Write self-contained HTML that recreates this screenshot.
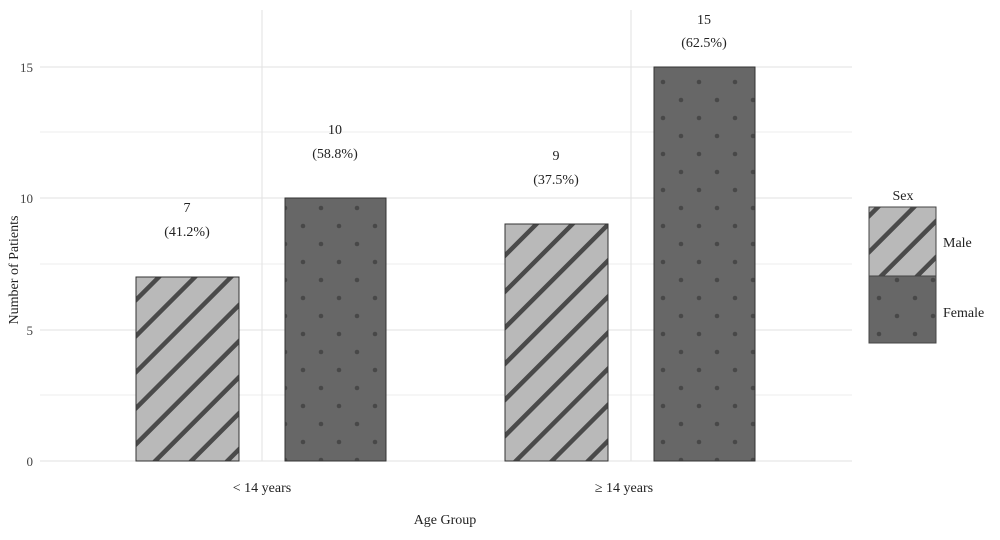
<!DOCTYPE html>
<html><head><style>body{margin:0;background:#fff}</style></head><body>
<svg width="1000" height="535" xmlns="http://www.w3.org/2000/svg" font-family="Liberation Serif, serif" fill="#222">
<defs>
<pattern id="st" width="25.5" height="25.5" patternUnits="userSpaceOnUse" patternTransform="rotate(45)">
<rect width="25.5" height="25.5" fill="#b9b9b9"/><rect x="0" y="0" width="4.5" height="25.5" fill="#4a4a4a"/>
</pattern>
<pattern id="dt" width="36" height="36" patternUnits="userSpaceOnUse" x="285" y="190">
<rect width="36" height="36" fill="#676767"/><circle cx="36" cy="18" r="2.3" fill="#484848"/><circle cx="0" cy="18" r="2.3" fill="#484848"/><circle cx="18" cy="0" r="2.3" fill="#484848"/><circle cx="18" cy="36" r="2.3" fill="#484848"/>
</pattern>
</defs>
<g stroke="#ececec" stroke-width="1">
<line x1="40" x2="852" y1="132" y2="132"/><line x1="40" x2="852" y1="264" y2="264"/><line x1="40" x2="852" y1="395" y2="395"/>
</g>
<g stroke="#e2e2e2" stroke-width="1">
<line x1="40" x2="852" y1="67" y2="67"/><line x1="40" x2="852" y1="198" y2="198"/><line x1="40" x2="852" y1="330" y2="330"/><line x1="40" x2="852" y1="461" y2="461"/>
<line x1="262" x2="262" y1="10" y2="461"/><line x1="631" x2="631" y1="10" y2="461"/>
</g>
<g stroke="#333" stroke-width="1">
<rect x="136" y="277" width="103" height="184" fill="url(#st)"/>
<rect x="285" y="198" width="101" height="263" fill="url(#dt)"/>
<rect x="505" y="224" width="103" height="237" fill="url(#st)"/>
<rect x="654" y="67" width="101" height="394" fill="url(#dt)"/>
</g>
<g font-size="14" text-anchor="middle">
<text x="187" y="212">7</text><text x="187" y="236">(41.2%)</text>
<text x="335" y="134">10</text><text x="335" y="158">(58.8%)</text>
<text x="556" y="160">9</text><text x="556" y="184">(37.5%)</text>
<text x="704" y="24">15</text><text x="704" y="47">(62.5%)</text>
<text x="262" y="492">&lt; 14 years</text><text x="624" y="492">≥ 14 years</text>
<text x="445" y="524">Age Group</text>
</g>
<g font-size="13" text-anchor="end" fill="#444">
<text x="33" y="72">15</text><text x="33" y="203">10</text><text x="33" y="335">5</text><text x="33" y="466">0</text>
</g>
<text transform="translate(18,270) rotate(-90)" font-size="14" text-anchor="middle">Number of Patients</text>
<text x="903" y="200" font-size="14" text-anchor="middle">Sex</text>
<rect x="869" y="207" width="67" height="69" fill="url(#st)" stroke="#444"/>
<rect x="869" y="276" width="67" height="67" fill="url(#dt)" stroke="#444"/>
<text x="943" y="247" font-size="14">Male</text>
<text x="943" y="317" font-size="14">Female</text>
</svg>
</body></html>
